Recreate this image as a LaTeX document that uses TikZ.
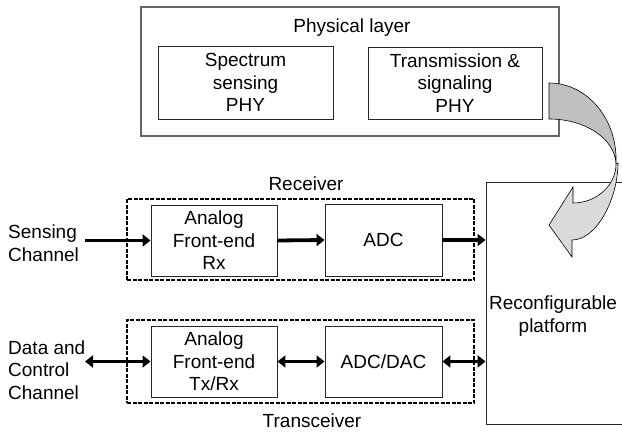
\documentclass[tikz,border=0pt]{standalone}
\usepackage{fontspec}
\setmainfont{Liberation Sans}
\usetikzlibrary{arrows.meta}
\begin{document}
\begin{tikzpicture}[x=1pt,y=-1pt,
  txt/.style={font=\fontsize{19}{22.5}\selectfont, align=center, inner sep=0pt},
  blk/.style={draw=black!85, line width=0.9pt, inner sep=0pt, txt},
  grp/.style={draw=black, line width=1.5pt, dash pattern=on 4pt off 1.5pt, inner sep=0pt},
  thick arrow/.style={line width=3.8pt, -{Triangle[length=8pt,width=12pt]}},
  thick dbl/.style={line width=3.8pt, {Triangle[length=8pt,width=12pt]}-{Triangle[length=8pt,width=12pt]}},
]
\useasboundingbox (0,0) rectangle (622,433);

% physical layer
\node[blk, draw=black!60, line width=1.1pt, minimum width=418pt, minimum height=129pt] (phys) at (350,71.5) {};
\node[txt] (physlbl) at (352,28) {Physical layer};
\node[blk, minimum width=175pt, minimum height=73pt] (spec) at (245.5,82.5) {Spectrum\\sensing\\PHY};
\node[blk, minimum width=174pt, minimum height=72pt] (trans) at (455,83) {Transmission \&\\signaling\\PHY};

% platform
\node[blk, minimum width=138pt, minimum height=242pt] (plat) at (555,303) {};
\node[txt] (platlbl) at (553,316) {Reconfigurable\\platform};

% receiver
\node[grp, minimum width=347pt, minimum height=81pt] (rx) at (300.5,239.5) {};
\node[txt] (rxlbl) at (306,184) {Receiver};
\node[blk, minimum width=126pt, minimum height=71pt] (afe1) at (214,240.5) {Analog\\Front-end\\Rx};
\node[blk, minimum width=117pt, minimum height=72pt] (adc) at (383.5,240) {ADC};

% transceiver
\node[grp, minimum width=347pt, minimum height=83pt] (tx) at (300.5,361.5) {};
\node[txt] (txlbl) at (312,421) {Transceiver};
\node[blk, minimum width=126pt, minimum height=71pt] (afe2) at (214,361.5) {Analog\\Front-end\\Tx/Rx};
\node[blk, minimum width=117pt, minimum height=71pt] (dac) at (383.5,361.5) {ADC/DAC};

% channels
\node[txt, align=left, anchor=west] (sens) at (8,243) {Sensing\\Channel};
\node[txt, align=left, anchor=west] (data) at (8,370) {Data and\\Control\\Channel};
\coordinate (sensin) at (85,240.5);
\coordinate (datain) at (85,361.5);

% connectors
\draw[thick arrow] (sensin) -- (afe1.west);
\draw[thick arrow] (afe1.east) -- (adc.west);
\draw[thick arrow] (adc.east) -- (plat.west |- adc.east);
\draw[thick dbl] (datain) -- (afe2.west);
\draw[thick dbl] (afe2.east) -- (dac.west);
\draw[thick dbl] (dac.east) -- (plat.west |- dac.east);

% curved arrow
\fill[fill={rgb,255:red,192;green,192;blue,192}, draw=black, line width=0.6pt]
  (549,83) -- (549,119)
  .. controls (585.4,119) and (615,138.7) .. (616,164)
  .. controls (618,118.8) and (587,83) .. (549,83) -- cycle;
\fill[fill={rgb,255:red,218;green,218;blue,218}, draw=black, line width=0.6pt]
  (616,164)
  .. controls (616,185) and (596.7,203) .. (573,203)
  -- (573,187) -- (549,225) -- (572,257) -- (572,240)
  .. controls (597.4,240) and (618,197.5) .. (618,163)
  -- cycle;
\end{tikzpicture}
\end{document}
